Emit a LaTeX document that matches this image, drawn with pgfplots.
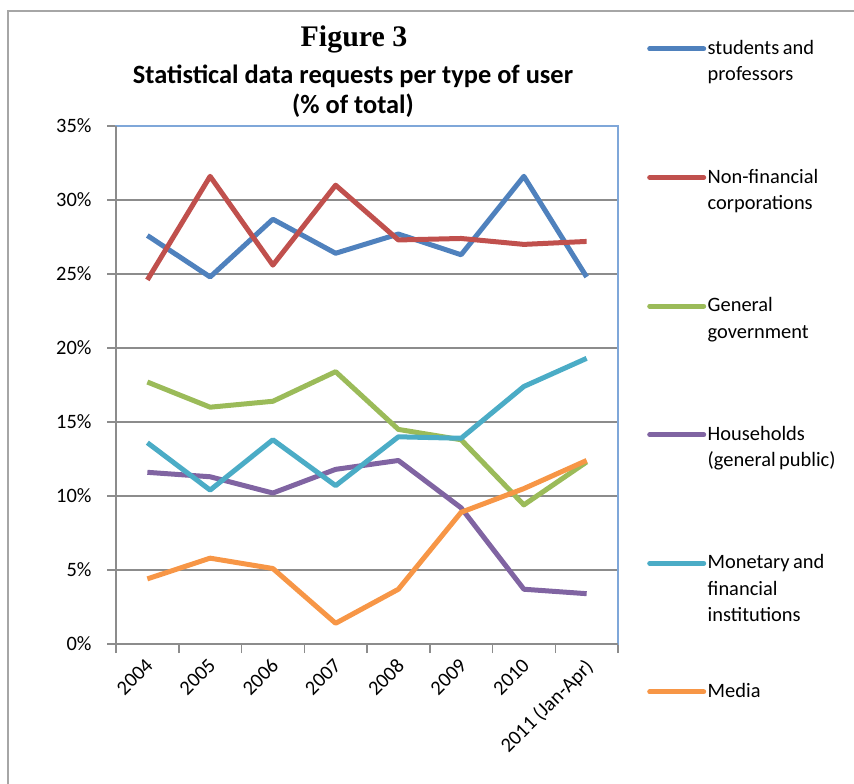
\documentclass[border=0pt]{standalone}
\usepackage{fontspec}
\setmainfont{Carlito}
\newfontfamily\serifbold{Liberation Serif}
\usepackage{pgfplots}
\pgfplotsset{compat=1.18}

\definecolor{sBlue}{HTML}{4F81BD}
\definecolor{sRed}{HTML}{C0504D}
\definecolor{sGreen}{HTML}{9BBB59}
\definecolor{sPurple}{HTML}{8064A2}
\definecolor{sAqua}{HTML}{4BACC6}
\definecolor{sOrange}{HTML}{F79646}
\definecolor{gridgray}{HTML}{8C8C8C}
\definecolor{framegray}{HTML}{A6A6A6}
\definecolor{plotblue}{HTML}{7FA7D9}

\begin{document}
\begin{tikzpicture}
\path[use as bounding box] (0bp,0bp) rectangle (854bp,784bp);
\draw[framegray, line width=2bp] (7.5bp,0bp) -- (7.5bp,772.5bp) -- (854bp,772.5bp);

\node[font=\serifbold\bfseries\fontsize{30}{34}\selectfont] at (354bp,745bp) {Figure 3};
\node[font=\bfseries\fontsize{26.5}{30}\selectfont] at (353bp,708bp) {Statistical data requests per type of user};
\node[font=\bfseries\fontsize{26.5}{30}\selectfont] at (353bp,678bp) {(\% of total)};

\begin{axis}[
  at={(116bp,140bp)}, anchor=south west,
  scale only axis, width=502bp, height=518bp,
  xmin=-0.5, xmax=7.5, ymin=0, ymax=35,
  xtick={0,...,7},
  xticklabels={2004,2005,2006,2007,2008,2009,2010,2011 (Jan-Apr)},
  minor xtick={-0.5,0.5,...,7.5},
  ytick={0,5,...,35},
  yticklabel={\pgfmathprintnumber{\tick}\%},
  /pgf/number format/assume math mode=true,
  tick align=outside,
  xtick pos=bottom, ytick pos=left,
  major x tick style={draw=none},
  minor tick length=9bp, major tick length=9bp,
  every tick/.style={gridgray, line width=1.5bp},
  ymajorgrids,
  major grid style={gridgray, line width=1.5bp},
  axis line style={plotblue, line width=1.5bp},
  ticklabel style={font=\fontsize{20.5}{24}\selectfont},
  yticklabel style={xshift=-12bp},
  xticklabel style={rotate=45, anchor=north east, inner sep=1bp, xshift=-4bp},
  every axis plot/.append style={line width=5bp, line join=round, no markers},
  legend style={draw=none, fill=none, at={(1.0578,1.1695)}, anchor=north west,
    inner sep=0pt, row sep=0pt, column sep=1.5bp,
    nodes={inner sep=0pt, text width=140bp, align=left,
      font=\fontsize{20.5}{26.5}\selectfont,
      execute at begin node={\spaceskip=0.17em plus 0.05em\relax},
      text height=16bp, text depth=112.6bp},
    cells={anchor=base west}},
  legend image code/.code={\draw[#1, line cap=round] (0bp,5.5bp) -- (54bp,5.5bp);},
  clip=false,
  after end axis/.code={
    \draw[gridgray, line width=1.5bp] (rel axis cs:0,1) -- (rel axis cs:0,0) -- (rel axis cs:1,0);
  },
]
\addplot[sBlue] coordinates {(0,27.6) (1,24.8) (2,28.7) (3,26.4) (4,27.7) (5,26.3) (6,31.6) (7,24.8)};
\addlegendentry{students and\\professors}
\addplot[sRed] coordinates {(0,24.6) (1,31.6) (2,25.6) (3,31.0) (4,27.3) (5,27.4) (6,27.0) (7,27.2)};
\addlegendentry{Non-financial\\corporations}
\addplot[sGreen] coordinates {(0,17.7) (1,16.0) (2,16.4) (3,18.4) (4,14.5) (5,13.8) (6,9.4) (7,12.3)};
\addlegendentry{General\\government}
\addplot[sPurple] coordinates {(0,11.6) (1,11.3) (2,10.2) (3,11.8) (4,12.4) (5,9.2) (6,3.7) (7,3.4)};
\addlegendentry{Households\\(general public)}
\addplot[sAqua] coordinates {(0,13.6) (1,10.4) (2,13.8) (3,10.7) (4,14.0) (5,13.9) (6,17.4) (7,19.3)};
\addlegendentry{Monetary and\\financial\\institutions}
\addplot[sOrange] coordinates {(0,4.4) (1,5.8) (2,5.1) (3,1.4) (4,3.7) (5,8.9) (6,10.5) (7,12.4)};
\addlegendentry{Media}
\end{axis}
\end{tikzpicture}
\end{document}
